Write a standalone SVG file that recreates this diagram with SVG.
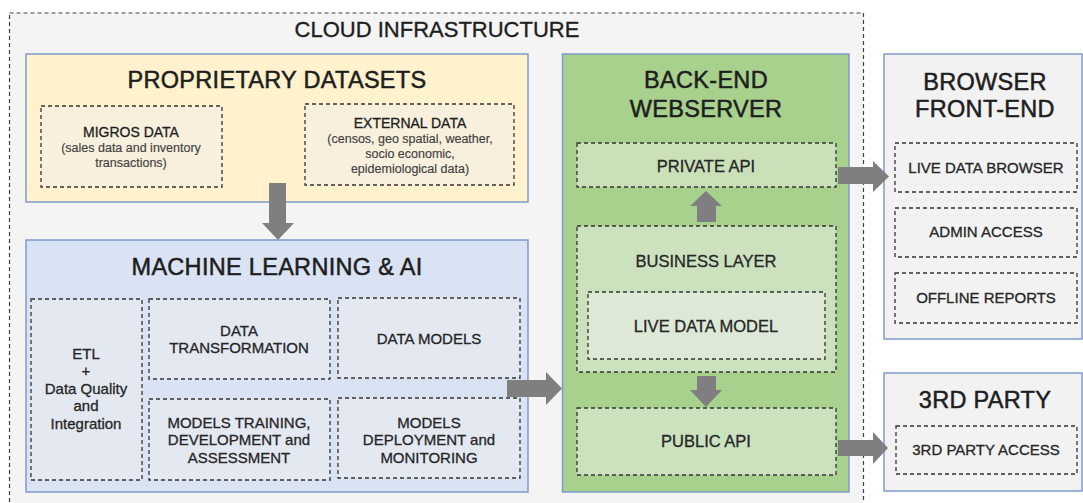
<svg xmlns="http://www.w3.org/2000/svg" width="1083" height="503" viewBox="0 0 1083 503">
<defs>
<style>
text{font-family:"Liberation Sans",Arial,sans-serif;fill:#1e1e1e;text-anchor:middle;stroke:#1e1e1e;stroke-width:0.3px}
.t{font-size:23.5px;letter-spacing:0.3px;stroke-width:0.5px}
.ct{font-size:22px;stroke-width:0.35px}
.s{font-size:14px}
.sub{font-size:12.5px;fill:#404040;stroke:#404040;stroke-width:0.15px}
.ml{font-size:15px;fill:#262626;stroke:#262626}
.be{font-size:16.5px;fill:#262626;stroke:#262626}
.fe{font-size:15px;fill:#262626;stroke:#262626}
.box{stroke:#7f9bc8;stroke-width:1.5}
.dash{stroke:#333;stroke-width:1.3;stroke-dasharray:4 3}
.arr{fill:#7f7f7f}
</style>
</defs>
<rect width="1083" height="503" fill="#ffffff"/>
<g id="cloud">
<rect x="9.5" y="13" width="854" height="500" fill="#f4f4f4" stroke="#404040" stroke-width="1.2" stroke-dasharray="4 3"/>
<text class="ct" x="437" y="37">CLOUD INFRASTRUCTURE</text>
</g>
<g id="proprietary">
<rect class="box" x="26" y="54" width="502" height="148" fill="#fff2cc"/>
<text class="t" x="277" y="88">PROPRIETARY DATASETS</text>
</g>
<g id="migros">
<rect class="dash" x="41" y="106" width="181" height="81" fill="#f8f0dd"/>
<text class="s" x="131" y="137">MIGROS DATA</text>
<text class="sub" x="131" y="152">(sales data and inventory</text>
<text class="sub" x="131" y="167">transactions)</text>
</g>
<g id="external">
<rect class="dash" x="305" y="104" width="209" height="81" fill="#f8f0dd"/>
<text class="s" x="410" y="128">EXTERNAL DATA</text>
<text class="sub" x="410" y="143">(censos, geo spatial, weather,</text>
<text class="sub" x="410" y="158">socio economic,</text>
<text class="sub" x="410" y="173">epidemiological data)</text>
</g>
<g id="ml">
<rect class="box" x="26" y="240" width="502" height="252" fill="#dae3f3"/>
<text class="t" x="277" y="275">MACHINE LEARNING &amp; AI</text>
</g>
<g id="etl">
<rect class="dash" x="31" y="299" width="111" height="181" fill="#e3e8f1"/>
<text class="ml" x="86" y="359">ETL</text>
<text class="ml" x="86" y="376">+</text>
<text class="ml" x="86" y="394">Data Quality</text>
<text class="ml" x="86" y="411">and</text>
<text class="ml" x="86" y="429">Integration</text>
</g>
<g id="transformation">
<rect class="dash" x="149" y="299" width="181" height="80" fill="#e3e8f1"/>
<text class="ml" x="239" y="336">DATA</text>
<text class="ml" x="239" y="353">TRANSFORMATION</text>
</g>
<g id="datamodels">
<rect class="dash" x="338" y="298" width="182" height="80" fill="#e3e8f1"/>
<text class="ml" x="429" y="344">DATA MODELS</text>
</g>
<g id="training">
<rect class="dash" x="149" y="399" width="181" height="81" fill="#e3e8f1"/>
<text class="ml" x="239" y="428">MODELS TRAINING,</text>
<text class="ml" x="239" y="445">DEVELOPMENT and</text>
<text class="ml" x="239" y="463">ASSESSMENT</text>
</g>
<g id="deployment">
<rect class="dash" x="338" y="398" width="182" height="80" fill="#e3e8f1"/>
<text class="ml" x="429" y="428">MODELS</text>
<text class="ml" x="429" y="445">DEPLOYMENT and</text>
<text class="ml" x="429" y="463">MONITORING</text>
</g>
<g id="backend">
<rect class="box" x="562.5" y="54" width="286.5" height="438" fill="#a9d18e"/>
<text class="t" x="706" y="88">BACK-END</text>
<text class="t" x="706" y="117">WEBSERVER</text>
</g>
<g id="privateapi">
<rect class="dash" x="577" y="143" width="259" height="44" fill="#c9e0b9"/>
<text class="be" x="706" y="172">PRIVATE  API</text>
</g>
<g id="business">
<rect class="dash" x="577" y="226" width="259" height="146" fill="#cce2bf"/>
<text class="be" x="706" y="267">BUSINESS LAYER</text>
</g>
<g id="livemodel">
<rect class="dash" x="588" y="292" width="237" height="67" fill="#dde9d6"/>
<text class="be" x="706" y="332">LIVE DATA MODEL</text>
</g>
<g id="publicapi">
<rect class="dash" x="577" y="408" width="259" height="67" fill="#cce2bf"/>
<text class="be" x="706" y="447">PUBLIC  API</text>
</g>
<g id="browser">
<rect class="box" x="884" y="54" width="198" height="285" fill="#f2f2f2"/>
<text class="t" x="985" y="90">BROWSER</text>
<text class="t" x="985" y="117">FRONT-END</text>
</g>
<g id="livebrowser">
<rect class="dash" x="895" y="143" width="182" height="49" fill="none"/>
<text class="fe" x="986" y="173">LIVE DATA BROWSER</text>
</g>
<g id="admin">
<rect class="dash" x="895" y="208" width="182" height="49" fill="none"/>
<text class="fe" x="986" y="237">ADMIN ACCESS</text>
</g>
<g id="offline">
<rect class="dash" x="895" y="273" width="182" height="50" fill="none"/>
<text class="fe" x="986" y="303">OFFLINE REPORTS</text>
</g>
<g id="thirdparty">
<rect class="box" x="884" y="373" width="198" height="118" fill="#f2f2f2"/>
<text class="t" x="985" y="408">3RD PARTY</text>
</g>
<g id="thirdaccess">
<rect class="dash" x="896" y="426" width="181" height="48" fill="none"/>
<text class="fe" x="986" y="455">3RD PARTY ACCESS</text>
</g>
<g id="connectors">
<polygon class="arr" points="269,183 286,183 286,223 294,223 278,240 262,223 269,223"/>
<polygon class="arr" points="507,380 546,380 546,372 562,388.5 546,405 546,397 507,397"/>
<polygon class="arr" points="697,222 716,222 716,206 722,206 706,191 690,206 697,206"/>
<polygon class="arr" points="697,376 716,376 716,390 722,390 706,407 690,390 697,390"/>
<polygon class="arr" points="838,167 873,167 873,161 889,176.5 873,192 873,184 838,184"/>
<polygon class="arr" points="838,440 873,440 873,432 888,448 873,464 873,456 838,456"/>
</g>
</svg>
